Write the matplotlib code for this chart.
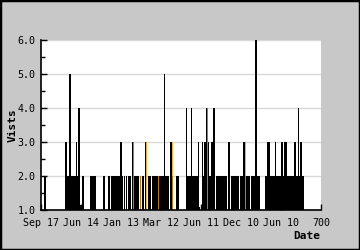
import matplotlib
matplotlib.use("Agg")
import matplotlib.pyplot as plt
from matplotlib.patches import Rectangle

# bar runs (x in data units 0..700, value in visits)
seg_start = [8, 60, 65, 70, 75, 87.5, 90, 92.5, 97.5, 102.5, 122.5, 155, 167.5, 175,
             197.5, 202.5, 207.5, 212.5, 217.5, 227.5, 232.5, 247.5, 252.5, 260, 267.5,
             277.5, 307.5, 310, 322.5, 327.5, 337.5, 362.5, 365, 375, 377.5, 392.5, 395,
             402.5, 405, 407.5, 412.5, 417.5, 420, 425, 430, 437.5, 467.5, 475, 497.5,
             505, 510, 525, 535, 540, 560, 565, 572.5, 585, 587.5, 600, 605, 607.5, 615,
             632.5, 637.5, 642.5, 644, 647.5, 652.5]
seg_end = [13, 65, 70, 75, 87.5, 90, 92.5, 97.5, 100, 107.5, 137.5, 160, 172.5, 197.5,
           202.5, 205, 210, 215, 225, 232.5, 245, 250, 257.5, 262.5, 275,
           307.5, 310, 320, 327.5, 330, 345, 365, 375, 377.5, 392.5, 395, 397.5,
           405, 407.5, 412.5, 417.5, 420, 425, 430, 435, 465, 472.5, 495, 505,
           510, 522.5, 535, 540, 547.5, 565, 572.5, 585, 587.5, 600, 605, 607.5, 615, 632.5,
           637.5, 642.5, 644, 647.5, 652.5, 657.5]
seg_value = [2, 3, 2, 5, 2, 3, 2, 4, 1.15, 2, 2, 2, 2, 2,
             3, 2, 2, 2, 2, 3, 2, 2, 2, 3, 2,
             2, 5, 2, 3, 2, 2, 4, 2, 4, 2, 3, 1.1,
             3, 2, 3, 4, 3, 2, 3, 4, 2, 3, 2, 2,
             3, 2, 2, 6, 2, 2, 3, 2, 3, 2, 3, 2, 3, 2,
             3, 2, 4, 2, 3, 2]

# thin orange series showing through
orange_x = [12.5, 72.5, 172.5, 231, 249, 264, 294, 329, 365, 377, 416, 452, 511, 527, 565, 587, 657]
orange_value = [2, 5, 2, 3, 2, 3, 2, 3, 4, 4, 4, 2, 3, 2, 3, 3, 2]

tick_pos = [0, 100, 200, 300, 400, 500, 600, 700]
tick_labels = ["Sep 17", "Jun 14", "Jan 13", "Mar 12", "Jun 11", "Dec 10", "Jun 10", "700"]

mono = "DejaVu Sans Mono"
fig = plt.figure(figsize=(3.6, 2.5), dpi=100, facecolor="#c8c8c8")
fig.patches.append(Rectangle((0, 0), 1, 1, transform=fig.transFigure, fill=False,
                             edgecolor="black", linewidth=2.5))
ax = fig.add_axes([41 / 360, 1 - 210 / 250, 280 / 360, 170 / 250])
ax.set_facecolor("white")

widths = [e - s for s, e in zip(seg_start, seg_end)]
heights = [v - 1 for v in seg_value]
ax.bar(seg_start, heights, width=widths, bottom=1, align="edge", color="black",
       linewidth=0, zorder=2)
ax.bar(orange_x, [v - 1 for v in orange_value], width=1.0, bottom=1, align="center",
       color="#e89a10", alpha=0.8, linewidth=0, zorder=3)

ax.set_xlim(0, 700)
ax.set_ylim(1, 6)
ax.set_yticks([1, 2, 3, 4, 5, 6])
ax.set_yticks([1.5, 2.5, 3.5, 4.5, 5.5], minor=True)
ax.set_yticklabels(["1.0", "2.0", "3.0", "4.0", "5.0", "6.0"], fontfamily=mono, fontsize=7.2)
ax.set_xticks(tick_pos)
ax.set_xticklabels(tick_labels, fontfamily=mono, fontsize=7.2)
ax.tick_params(axis="both", which="both", direction="in", length=4, width=1)
ax.tick_params(axis="y", which="both", pad=4)
ax.tick_params(axis="x", pad=6)
ax.tick_params(axis="y", which="minor", length=3)
ax.grid(axis="y", color="#d8d8d8", linewidth=1, zorder=1)
ax.set_axisbelow(True)

for side in ["top", "right"]:
    ax.spines[side].set_visible(False)
for side in ["left", "bottom"]:
    ax.spines[side].set_linewidth(1.2)
    ax.spines[side].set_zorder(4)

fig.text(8 / 360, 0.5, "Vists", rotation=90, fontfamily=mono, fontweight="bold",
         fontsize=8, ha="left", va="center")
fig.text(320 / 360, 1 - 236 / 250, "Date", fontfamily=mono, fontweight="bold",
         fontsize=8, ha="right", va="center")

fig.savefig("out.png", dpi=100, facecolor=fig.get_facecolor())
